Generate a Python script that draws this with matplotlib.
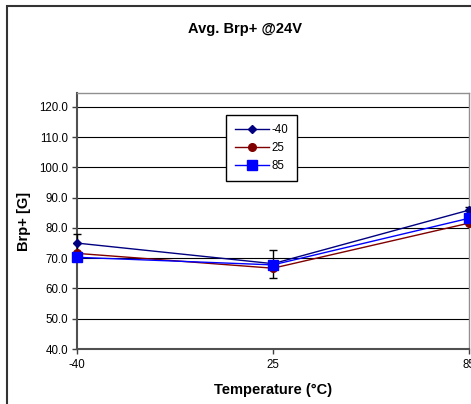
import matplotlib
matplotlib.use("Agg")
import matplotlib.pyplot as plt
from matplotlib.patches import Rectangle

plt.rcParams['font.family'] = ['Liberation Sans', 'DejaVu Sans']

temps = ['-40', '25', '85']
s_m40 = [75.0, 68.2, 85.9]
s_25 = [71.6, 66.7, 81.6]
s_85 = [70.3, 67.8, 83.2]
err_m40 = [3.0, 4.6, 1.0]
yticks = [40, 50, 60, 70, 80, 90, 100, 110, 120]

W, H = 471, 404
fig = plt.figure(figsize=(W / 100, H / 100), dpi=100)
ax = fig.add_axes([77 / W, 55 / H, (469 - 77) / W, (349 - 93) / H])

x = list(range(len(temps)))
ax.set_xlim(0, len(temps) - 1)
ax.set_ylim(40, 124.6)
ax.set_yticks(yticks)
ax.set_yticklabels([f"{v:.1f}" for v in yticks], fontsize=8.3)
ax.set_xticks(x)
ax.set_xticklabels(temps, fontsize=8.3)
ax.tick_params(axis='both', direction='out', length=3.5, width=1, color='#404040', pad=4)
ax.tick_params(axis='y', pad=3)
ax.yaxis.grid(True, color='black', lw=0.8)
ax.set_axisbelow(True)

for s in ['top', 'right']:
    ax.spines[s].set_color('#909090')
    ax.spines[s].set_linewidth(1)
for s in ['left', 'bottom']:
    ax.spines[s].set_color('#505050')
    ax.spines[s].set_linewidth(1.5)

ax.errorbar(x, s_m40, yerr=err_m40, fmt='none', ecolor='black', elinewidth=1,
            capsize=3, capthick=1, clip_on=False, zorder=3)
ax.plot(x, s_m40, color='#000080', lw=1, marker='D', ms=4.5, label='-40',
        clip_on=False, zorder=4)
ax.plot(x, s_25, color='#800000', lw=1, marker='o', ms=5.5, label='25',
        clip_on=False, zorder=4)
ax.plot(x, s_85, color='#0000FF', lw=1, marker='s', ms=6.5, label='85',
        clip_on=False, zorder=4)

leg = ax.legend(loc='upper left', bbox_to_anchor=(226 / W, 1 - 115 / H),
                bbox_transform=fig.transFigure, borderaxespad=0,
                fontsize=8.3, frameon=True, fancybox=False, framealpha=1,
                edgecolor='black', handlelength=3.0, handletextpad=0.2,
                labelspacing=0.55, borderpad=0.75)
leg.get_frame().set_linewidth(1)

ax.set_xlabel('Temperature (°C)', fontsize=10.5, fontweight='bold', labelpad=8)
ax.set_ylabel('Brp+ [G]', fontsize=10.5, fontweight='bold', labelpad=6)
fig.text(245 / W, 1 - 29 / H, 'Avg. Brp+ @24V', fontsize=10.5, fontweight='bold',
         ha='center', va='center')

fig.patches.append(Rectangle((7 / W, -0.1), 1.2, 1 - 6 / H + 0.1,
                             transform=fig.transFigure, fill=False,
                             edgecolor='#333333', lw=1.5, clip_on=False))

fig.savefig('out.png', dpi=100)
